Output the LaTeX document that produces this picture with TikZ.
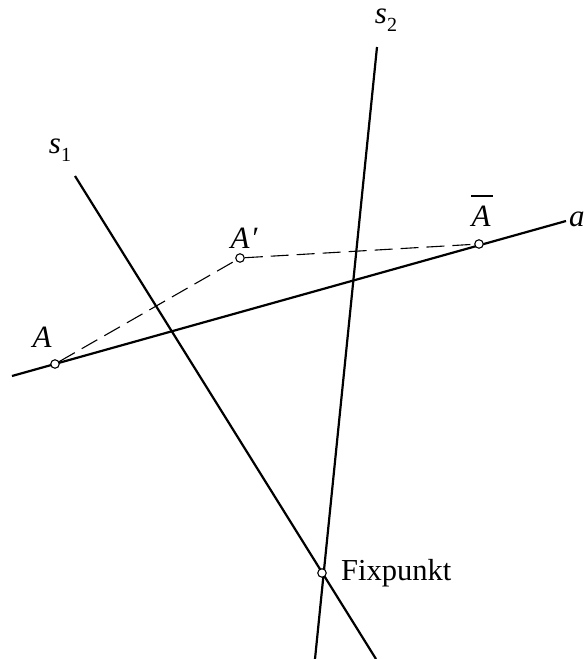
\documentclass[tikz,border=0pt]{standalone}
\usepackage{fontspec}
\setmainfont{Liberation Serif}
\usetikzlibrary{positioning, calc}
\tikzset{
  axisline/.style={line width=2.2pt, black},
  helpline/.style={line width=1.1pt, dash pattern=on 18pt off 8pt},
  pointmark/.style={circle, draw, line width=1.1pt, fill=white,
    inner sep=0pt, minimum size=8.5pt},
  ptlabel/.style={font=\fontsize{31}{34}\selectfont\itshape, inner sep=0pt}
}
\newcommand{\subidx}[1]{\raisebox{-0.25em}{\fontsize{20}{23}\selectfont\upshape #1}}

\begin{document}
\begin{tikzpicture}[x=1pt, y=-1pt]
          \useasboundingbox (0,0) rectangle (585,659);
          % line ends
          \coordinate (a west) at (12,376);
          \coordinate (a east) at (566,221);
          \coordinate (s1 top) at (75,176);
          \coordinate (s1 bottom) at (376,659);
          \coordinate (s2 top) at (377,47);
          \coordinate (s2 bottom) at (315,659);
          % lines
          \draw[axisline] (a west) -- (a east);
          \draw[axisline] (s1 top) -- (s1 bottom);
          \draw[axisline] (s2 top) -- (s2 bottom);
          % points
          \node[pointmark] (pA) at (55,364) {};
          \node[pointmark] (pAprime) at (240,258) {};
          \node[pointmark] (pAbar) at (479,244) {};
          \node[pointmark] (fix) at (322,573) {};
          \draw[helpline] (pA) -- (pAprime) -- (pAbar);
          % labels
          \node[ptlabel] at (42,337) {A};
          \node[ptlabel] at (244,238) {A\kern1pt′};
          \node[ptlabel] (lAbar) at (481,216) {A};
          \draw[line width=1.4pt] (471,196) -- (493,196);
          \node[ptlabel, anchor=west] at (569,219) {a};
          \node[ptlabel] at (60,150) {s\subidx{1}};
          \node[ptlabel] at (386,20) {s\subidx{2}};
          \node[font=\fontsize{30.5}{34}\selectfont, anchor=west, inner sep=0pt] (lfix) at (341,573) {Fixpunkt};
        \end{tikzpicture}
\end{document}
